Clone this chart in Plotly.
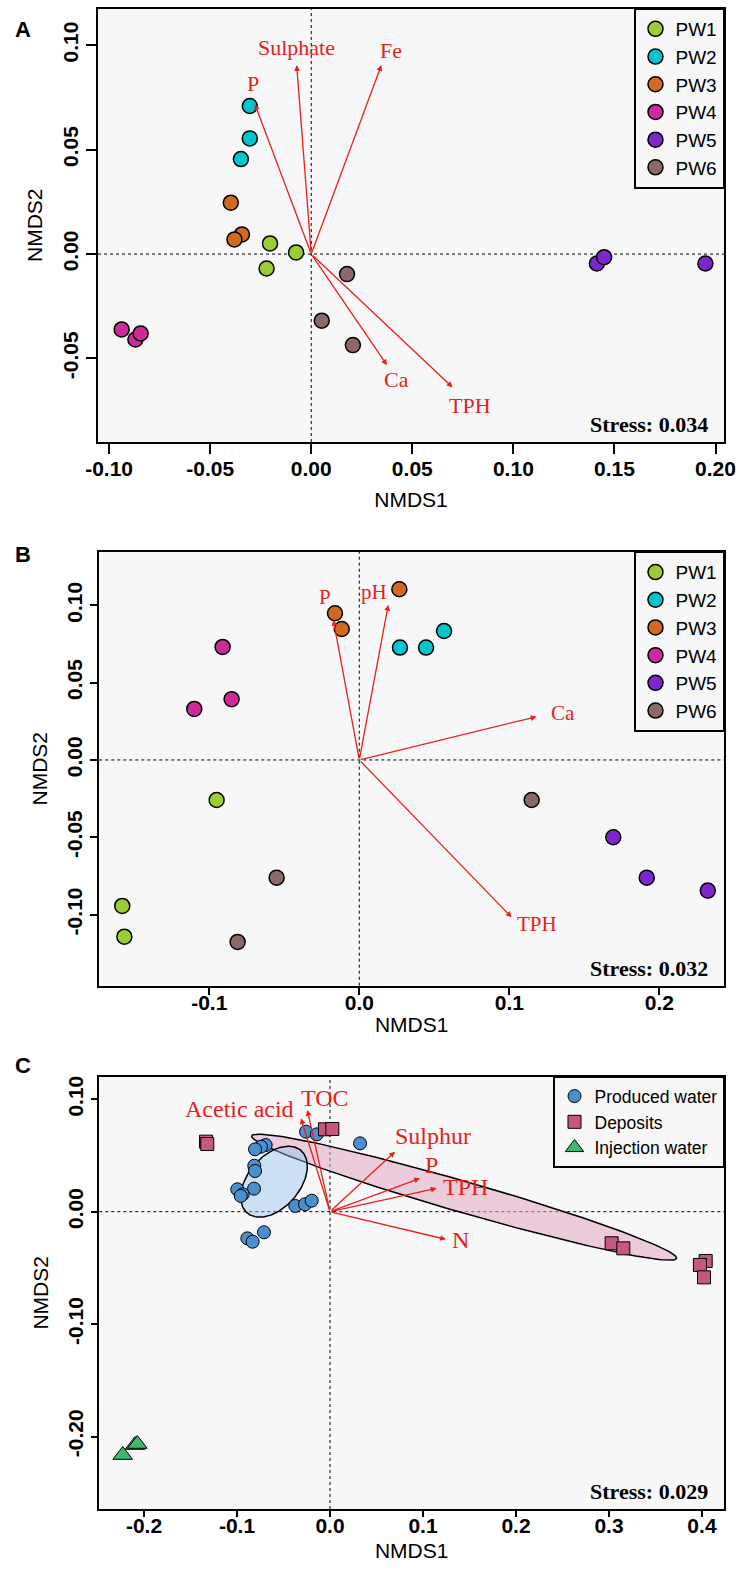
import numpy as np
import plotly.graph_objects as go

W, H = 739, 1574

# ---------------- DATA ----------------
groups_pw = ["PW1", "PW2", "PW3", "PW4", "PW5", "PW6"]
pw_colors = ["#9acd32", "#00c5cd", "#d2691e", "#cd2b9a", "#7d26cd", "#8b6969"]

# Panel A
a_x = {
    "PW1": [-0.0204, -0.0075, -0.0221],
    "PW2": [-0.0304, -0.0304, -0.0348],
    "PW3": [-0.0398, -0.0343, -0.0380],
    "PW4": [-0.0938, -0.0870, -0.0844],
    "PW5": [0.1413, 0.1449, 0.1950],
    "PW6": [0.0177, 0.0052, 0.0206],
}
a_y = {
    "PW1": [0.0051, 0.0008, -0.0069],
    "PW2": [0.0709, 0.0554, 0.0455],
    "PW3": [0.0246, 0.0094, 0.0070],
    "PW4": [-0.0361, -0.0409, -0.0380],
    "PW5": [-0.0045, -0.0015, -0.0045],
    "PW6": [-0.0096, -0.0319, -0.0436],
}
a_vec_names = ["P", "Sulphate", "Fe", "Ca", "TPH"]
a_vec_x = [-0.0279, -0.0072, 0.0347, 0.0375, 0.0699]
a_vec_y = [0.0718, 0.0905, 0.0905, -0.0532, -0.0638]
a_lab_x = [-0.0286, -0.0075, 0.0396, 0.0424, 0.0785]
a_lab_y = [0.0815, 0.0990, 0.0975, -0.0603, -0.0723]
a_stress = "Stress: 0.034"

# Panel B
b_x = {
    "PW1": [-0.0951, -0.1580, -0.1566],
    "PW2": [0.0271, 0.0445, 0.0565],
    "PW3": [-0.0162, -0.0117, 0.0267],
    "PW4": [-0.0911, -0.0851, -0.1100],
    "PW5": [0.1693, 0.1916, 0.2323],
    "PW6": [-0.0551, -0.0811, 0.1149],
}
b_y = {
    "PW1": [-0.0259, -0.0944, -0.1143],
    "PW2": [0.0727, 0.0727, 0.0834],
    "PW3": [0.0949, 0.0847, 0.1104],
    "PW4": [0.0731, 0.0393, 0.0330],
    "PW5": [-0.0500, -0.0761, -0.0845],
    "PW6": [-0.0761, -0.1177, -0.0259],
}
b_vec_names = ["P", "pH", "Ca", "TPH"]
b_vec_x = [-0.0173, 0.0193, 0.1182, 0.1016]
b_vec_y = [0.0906, 0.1003, 0.0280, -0.1018]
b_lab_x = [-0.0229, 0.0098, 0.1361, 0.1183]
b_lab_y = [0.1052, 0.1089, 0.0302, -0.1061]
b_stress = "Stress: 0.032"

# Panel C
c_groups = ["Produced water", "Deposits", "Injection water"]
c_colors = ["#4a8fd0", "#c8577f", "#3cb96e"]
c_symbols = ["circle", "square", "triangle-up"]
c_x = {
    "Produced water": [-0.0258, -0.0143, 0.0323, -0.0692, -0.0742, -0.0806, -0.0814, -0.0806,
                       -0.0997, -0.0817, -0.0939, -0.0960, -0.0373, -0.0269, -0.0197,
                       -0.0889, -0.0832, -0.0710],
    "Deposits": [-0.1333, -0.1320, -0.0054, 0.0025, 0.3029, 0.3154, 0.4040, 0.3978, 0.4022],
    "Injection water": [-0.2229, -0.2097, -0.2072],
}
c_y = {
    "Produced water": [0.0712, 0.0688, 0.0608, 0.0593, 0.0578, 0.0555, 0.0409, 0.0362,
                       0.0199, 0.0205, 0.0155, 0.0140, 0.0051, 0.0066, 0.0098,
                       -0.0237, -0.0267, -0.0183],
    "Deposits": [0.0623, 0.0602, 0.0733, 0.0736, -0.0281, -0.0326, -0.0439, -0.0474, -0.0584],
    "Injection water": [-0.2165, -0.2076, -0.2067],
}
c_vec_names = ["Acetic acid", "TOC", "Sulphur", "P", "TPH", "N"]
c_vec_x = [-0.0312, -0.0244, 0.0699, 0.0968, 0.1147, 0.1247]
c_vec_y = [0.0831, 0.0905, 0.0534, 0.0297, 0.0208, -0.0246]
c_lab_x = [-0.0968, -0.0054, 0.1111, 0.1094, 0.1452, 0.1398]
c_lab_y = [0.0914, 0.1009, 0.0673, 0.0415, 0.0222, -0.0252]
c_stress = "Stress: 0.029"
# group ellipses: centre and covariance (data units)
ell_groups = ["Deposits", "Produced water"]
ell_center = {"Produced water": (-0.0602, 0.0267), "Deposits": (0.1443, 0.0129)}
ell_cov = {"Produced water": ((0.001282, 0.000487), (0.000487, 0.000997)),
           "Deposits": ((0.05223, -0.012392), (-0.012392, 0.003146))}
ell_fill = {"Produced water": "rgba(150,195,240,0.45)", "Deposits": "rgba(228,170,195,0.55)"}

# axes
a_xticks = [-0.10, -0.05, 0.00, 0.05, 0.10, 0.15, 0.20]
a_xtext = ["-0.10", "-0.05", "0.00", "0.05", "0.10", "0.15", "0.20"]
a_yticks = [-0.05, 0.00, 0.05, 0.10]
a_ytext = ["-0.05", "0.00", "0.05", "0.10"]
b_xticks = [-0.1, 0.0, 0.1, 0.2]
b_xtext = ["-0.1", "0.0", "0.1", "0.2"]
b_yticks = [-0.10, -0.05, 0.00, 0.05, 0.10]
b_ytext = ["-0.10", "-0.05", "0.00", "0.05", "0.10"]
c_xticks = [-0.2, -0.1, 0.0, 0.1, 0.2, 0.3, 0.4]
c_xtext = ["-0.2", "-0.1", "0.0", "0.1", "0.2", "0.3", "0.4"]
c_yticks = [-0.20, -0.10, 0.00, 0.10]
c_ytext = ["-0.20", "-0.10", "0.00", "0.10"]

a_xrange = [-0.1055, 0.2042]; a_yrange = [-0.0900, 0.1176]
b_xrange = [-0.1733, 0.2431]; b_yrange = [-0.1460, 0.1347]
c_xrange = [-0.2481, 0.4237]; c_yrange = [-0.2645, 0.1201]

# ---------------- STYLE ----------------
SANS = "Liberation Sans, Arial, sans-serif"
SERIF = "Liberation Serif, Times New Roman, serif"
RED = "#e8201c"
BG = "#f7f7f7"

fig = go.Figure()

def px2paper_x(p):
    return p / W

def px2paper_y(p):
    return 1 - p / H

panels = [
    dict(n="", xd=(98, 724), yd=(8.5, 442), xr=a_xrange, yr=a_yrange, xt=(a_xticks, a_xtext),
         yt=(a_yticks, a_ytext), ticklen=10, lstand=-3, standoff=13),
    dict(n="2", xd=(99.3, 724), yd=(551.7, 985.7), xr=b_xrange, yr=b_yrange, xt=(b_xticks, b_xtext),
         yt=(b_yticks, b_ytext), ticklen=7, lstand=-10, standoff=4),
    dict(n="3", xd=(99.3, 724), yd=(1076.7, 1509), xr=c_xrange, yr=c_yrange, xt=(c_xticks, c_xtext),
         yt=(c_yticks, c_ytext), ticklen=6, lstand=-9, standoff=7),
]

layout = dict(width=W, height=H, margin=dict(l=0, r=0, t=0, b=0, autoexpand=False),
              paper_bgcolor="white", plot_bgcolor=BG, showlegend=True)

for p in panels:
    n = p["n"]
    ax_common = dict(showline=True, linecolor="black", linewidth=2, mirror=True,
                     showgrid=False, zeroline=False, ticks="outside", ticklen=p["ticklen"],
                     tickwidth=1.5, tickcolor="black", automargin=False,
                     tickfont=dict(family=SANS, size=21, color="black", weight="bold"),
                     title_font=dict(family=SANS, size=21, color="black"))
    layout["xaxis" + n] = dict(ax_common, domain=[px2paper_x(p["xd"][0]), px2paper_x(p["xd"][1])],
                               range=p["xr"], anchor="y" + n, tickvals=p["xt"][0], ticktext=p["xt"][1],
                               ticklabelstandoff=p["lstand"],
                               title=dict(text="NMDS1", standoff=p["standoff"]))
    layout["yaxis" + n] = dict(ax_common, domain=[px2paper_y(p["yd"][1]), px2paper_y(p["yd"][0])],
                               range=p["yr"], anchor="x" + n, tickvals=p["yt"][0], ticktext=p["yt"][1],
                               tickangle=-90, title=dict(text="NMDS2", standoff=10))

fig.update_layout(**layout)

shapes = []
annotations = []

def add_zero_lines(n):
    xr = "x" + n
    yr = "y" + n
    shapes.append(dict(type="line", xref=xr, yref=yr + " domain", x0=0, x1=0, y0=0, y1=1,
                       line=dict(color="black", width=1, dash="dot"), layer="below"))
    shapes.append(dict(type="line", xref=xr + " domain", yref=yr, x0=0, x1=1, y0=0, y1=0,
                       line=dict(color="black", width=1, dash="dot"), layer="below"))

def add_vectors(n, names, vx, vy, lx, ly, size):
    xr = "x" + n
    yr = "y" + n
    for name, x, y, tx, ty in zip(names, vx, vy, lx, ly):
        annotations.append(dict(x=x, y=y, ax=0, ay=0, xref=xr, yref=yr, axref=xr, ayref=yr,
                                text="", showarrow=True, arrowhead=2, arrowsize=0.9,
                                arrowwidth=1.3, arrowcolor=RED, standoff=0, startstandoff=0))
        annotations.append(dict(x=tx, y=ty, xref=xr, yref=yr, text=name, showarrow=False,
                                font=dict(family=SERIF, size=size, color=RED)))

def add_stress(n, text):
    annotations.append(dict(x=1, y=0, xref="x" + n + " domain", yref="y" + n + " domain",
                            xanchor="right", yanchor="bottom", xshift=-14, yshift=3,
                            text="<b>" + text + "</b>", showarrow=False,
                            font=dict(family=SERIF, size=22, color="black")))

# Panel A & B points
for n, dx, dy, leg in [("", a_x, a_y, "legend"), ("2", b_x, b_y, "legend2")]:
    add_zero_lines(n)
    for g, col in zip(groups_pw, pw_colors):
        fig.add_trace(go.Scatter(x=dx[g], y=dy[g], mode="markers", name=g, xaxis="x" + n, yaxis="y" + n,
                                 legend=leg,
                                 marker=dict(size=15, color=col, line=dict(color="black", width=1.5))))

add_vectors("", a_vec_names, a_vec_x, a_vec_y, a_lab_x, a_lab_y, 22)
add_vectors("2", b_vec_names, b_vec_x, b_vec_y, b_lab_x, b_lab_y, 21)
add_stress("", a_stress)
add_stress("2", b_stress)

# Panel C
add_zero_lines("3")
t = np.linspace(0, 2 * np.pi, 200)
for g in ell_groups:
    L = np.linalg.cholesky(np.array(ell_cov[g]))
    pts = L @ np.vstack([np.cos(t), np.sin(t)])
    cx, cy = ell_center[g]
    fig.add_trace(go.Scatter(x=cx + pts[0], y=cy + pts[1], mode="lines", fill="toself",
                             fillcolor=ell_fill[g], line=dict(color="black", width=1.5),
                             xaxis="x3", yaxis="y3", showlegend=False, hoverinfo="skip"))
for g, col, sym in zip(c_groups, c_colors, c_symbols):
    fig.add_trace(go.Scatter(x=c_x[g], y=c_y[g], mode="markers", name=g, xaxis="x3", yaxis="y3",
                             legend="legend3",
                             marker=dict(size=13 if sym != "triangle-up" else 17, symbol=sym, color=col,
                                         line=dict(color="black", width=1))))
add_vectors("3", c_vec_names, c_vec_x, c_vec_y, c_lab_x, c_lab_y, 24)
add_stress("3", c_stress)

# panel letters
for letter, py in [("A", 15), ("B", 555), ("C", 1080)]:
    annotations.append(dict(x=px2paper_x(13), y=px2paper_y(py), xref="paper", yref="paper",
                            text="<b>" + letter + "</b>", showarrow=False,
                            font=dict(family=SANS, size=22, color="black")))

leg_common = dict(bgcolor=BG, bordercolor="black", borderwidth=1.5, xanchor="right", yanchor="top",
                  font=dict(family=SANS, size=19, color="black"), itemwidth=30)
fig.update_layout(
    shapes=shapes, annotations=annotations,
    legend=dict(leg_common, x=px2paper_x(724), y=px2paper_y(8.5)),
    legend2=dict(leg_common, x=px2paper_x(724), y=px2paper_y(551.7)),
    legend3=dict(leg_common, x=px2paper_x(724), y=px2paper_y(1076.7), font=dict(family=SANS, size=17.5, color="black")),
)

fig.write_html("out.html", config={"displayModeBar": False},
               post_script="document.body.style.margin='0';document.body.style.overflow='hidden';")
